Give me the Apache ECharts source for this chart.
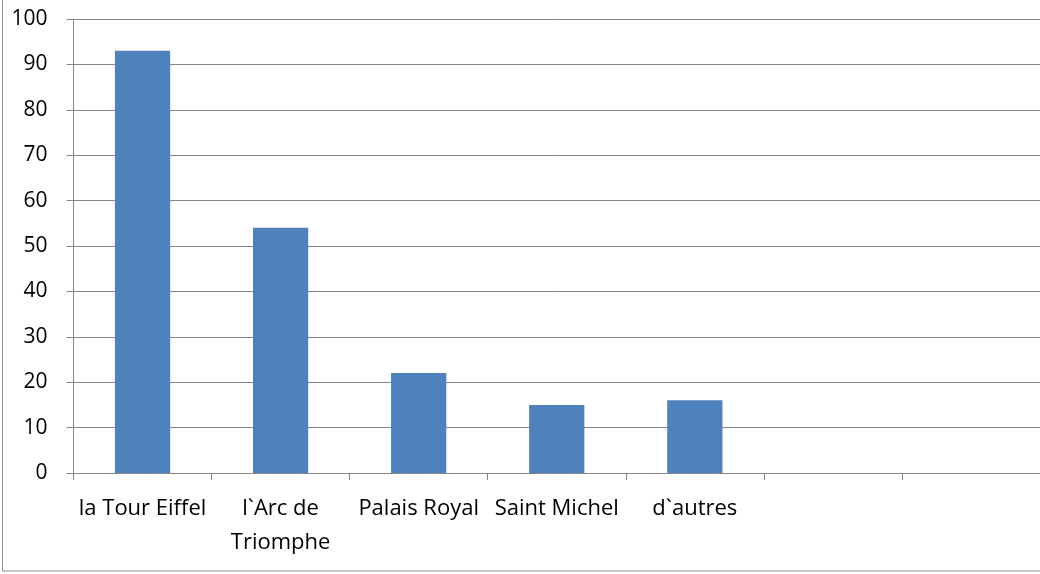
<!DOCTYPE html>
<html><head><meta charset="utf-8">
<script src="https://cdn.jsdelivr.net/npm/echarts@6/dist/echarts.min.js"></script>
<style>html,body{margin:0;padding:0;background:#fff}#c{width:1040px;height:574px}</style>
</head><body><div id="c"></div>
<script>
var categories = ['la Tour Eiffel', 'l`Arc de\nTriomphe', 'Palais Royal', 'Saint Michel', 'd`autres', '', ''];
var values = [93, 54, 22, 15, 16, null, null];
var yTicks = [0, 10, 20, 30, 40, 50, 60, 70, 80, 90, 100];

var chart = echarts.init(document.getElementById('c'));
var font = '"Open Sans", sans-serif';
chart.setOption({
  animation: false,
  graphic: [{
    type: 'rect', silent: true,
    shape: { x: 2.5, y: -20, width: 1100, height: 591 },
    style: { fill: 'none', stroke: '#8c8c8c', lineWidth: 1 }
  }],
  grid: { left: 73.5, top: 19, width: 970, height: 454, containLabel: false },
  xAxis: {
    type: 'category', data: categories,
    axisLine: { lineStyle: { color: '#868686', width: 1 } },
    axisTick: { show: true, length: 7, alignWithLabel: false, lineStyle: { color: '#868686' } },
    axisLabel: { color: '#000', fontFamily: font, fontSize: 22, margin: 19, lineHeight: 34, interval: 0 },
    splitLine: { show: false }
  },
  yAxis: {
    type: 'value', min: yTicks[0], max: yTicks[yTicks.length - 1], interval: 10,
    axisLine: { show: true, lineStyle: { color: '#868686', width: 1 } },
    axisTick: { show: true, length: 7, lineStyle: { color: '#868686' } },
    axisLabel: { color: '#000', fontFamily: font, fontSize: 21, margin: 26 },
    splitLine: { show: true, lineStyle: { color: '#868686', width: 1 } }
  },
  series: [{
    type: 'bar', data: values, barWidth: '40%',
    itemStyle: { color: '#4F81BD' }
  }]
});
</script></body></html>
